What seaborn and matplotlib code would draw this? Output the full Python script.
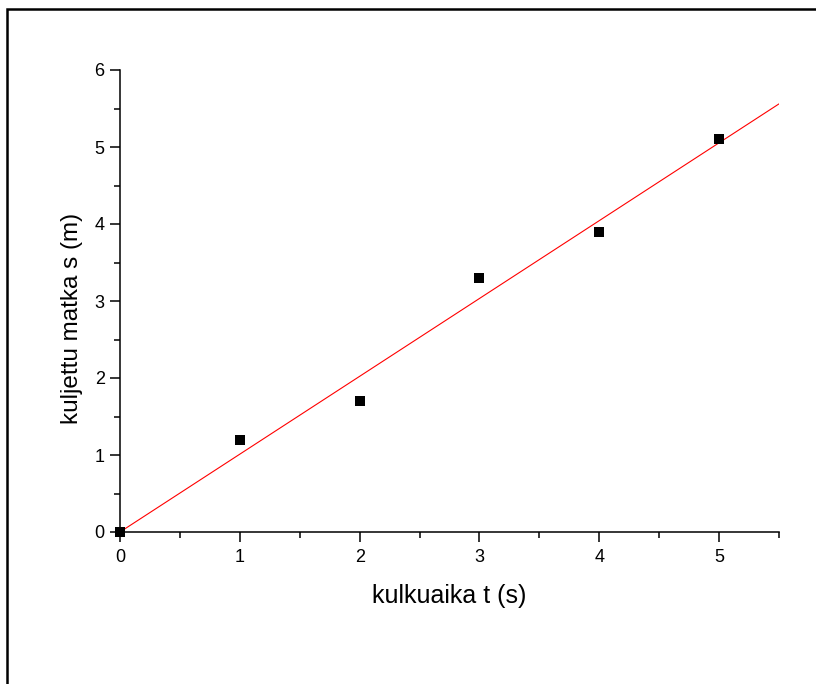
import numpy as np
import pandas as pd
import seaborn as sns
import matplotlib.pyplot as plt
from matplotlib.patches import Rectangle
from matplotlib.ticker import MultipleLocator

# Data
time_s = [0, 1, 2, 3, 4, 5]
dist_m = [0, 1.2, 1.7, 3.3, 3.9, 5.1]
xLabel = 'kulkuaika t (s)'
yLabel = 'kuljettu matka s (m)'

df = pd.DataFrame({'t': time_s, 's': dist_m})

# Fit line through origin
slope = np.sum(df['t'] * df['s']) / np.sum(df['t'] ** 2)
fitX = np.array([0, 5.5])
fit = pd.DataFrame({'t': fitX, 's': slope * fitX})

sns.set_style('ticks')
plt.rcParams['font.family'] = ['Liberation Sans', 'DejaVu Sans']
plt.rcParams['text.color'] = 'black'
plt.rcParams['axes.labelcolor'] = 'black'
plt.rcParams['xtick.color'] = 'black'
plt.rcParams['ytick.color'] = 'black'

fig = plt.figure(figsize=(8.16, 6.84), dpi=100)
ax = fig.add_axes([120/816, 1 - 532/684, (779 - 120)/816, (532 - 70)/684])

sns.lineplot(data=fit, x='t', y='s', color='red', linewidth=0.8, ax=ax)
sns.scatterplot(data=df, x='t', y='s', marker='s', s=55, color='black',
                edgecolor='black', linewidth=0, ax=ax, clip_on=False, zorder=5)

ax.set_xlim(0, 5.5)
ax.set_ylim(0, 6)
ax.xaxis.set_major_locator(MultipleLocator(1))
ax.xaxis.set_minor_locator(MultipleLocator(0.5))
ax.yaxis.set_major_locator(MultipleLocator(1))
ax.yaxis.set_minor_locator(MultipleLocator(0.5))
ax.tick_params(which='major', direction='out', length=7, width=1.1, labelsize=13,
               color='black', labelcolor='black')
ax.tick_params(axis='x', which='major', pad=5)
ax.tick_params(axis='y', which='major', pad=4)
ax.tick_params(which='minor', direction='out', length=4, width=1.1, color='black')

ax.set_xlabel(xLabel, fontsize=18, color='black', va='center')
ax.set_ylabel(yLabel, fontsize=17.5, color='black', va='center')
ax.xaxis.set_label_coords(0.5, (532 - 596) / 462)
ax.yaxis.set_label_coords((72 - 120) / 659, (532 - 318) / 462)

sns.despine(ax=ax)
for side in ['left', 'bottom']:
    ax.spines[side].set_linewidth(1.1)
    ax.spines[side].set_color('black')

# Frame around the page
fig.patches.append(Rectangle((7/816, -0.1), 1.2, 1 - 9/684 + 0.1, transform=fig.transFigure,
                             fill=False, edgecolor='black', linewidth=1.8, clip_on=False))

fig.savefig('out.png', dpi=100)
